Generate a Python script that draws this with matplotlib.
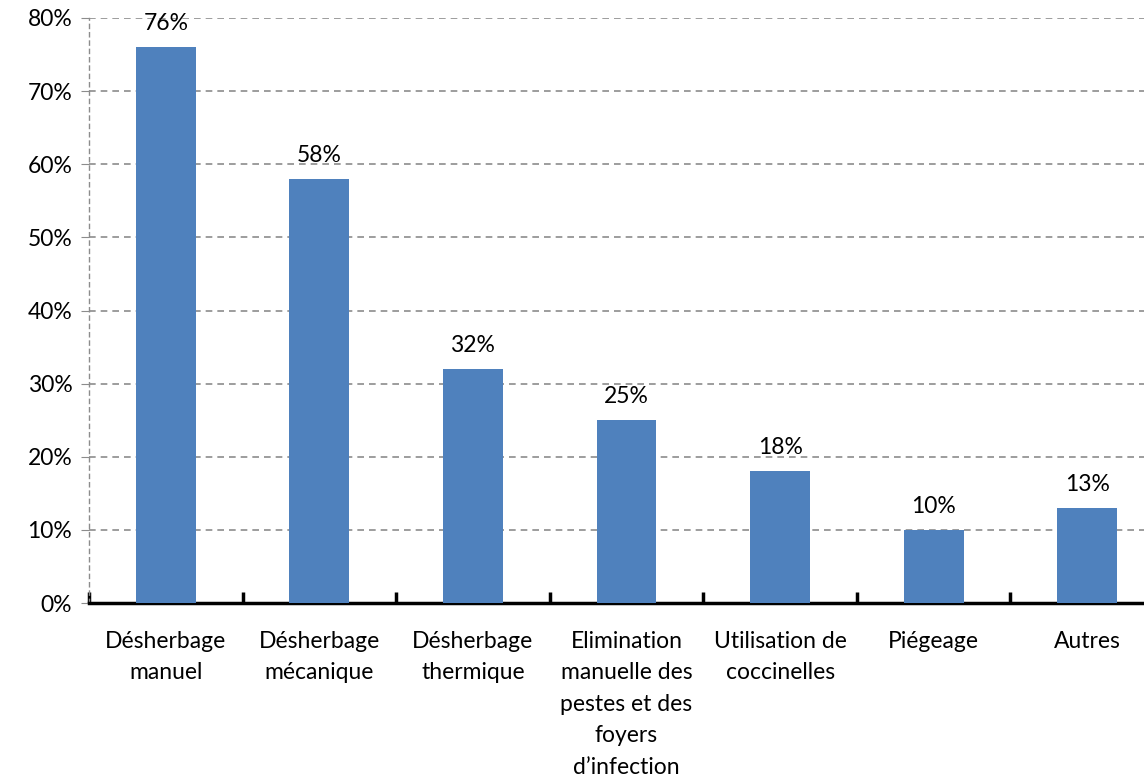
import matplotlib.pyplot as plt
from matplotlib.ticker import PercentFormatter
import numpy as np

categories = ["Désherbage\nmanuel", "Désherbage\nmécanique", "Désherbage\nthermique",
              "Elimination\nmanuelle des\npestes et des\nfoyers\nd\u2019infection",
              "Utilisation de\ncoccinelles", "Piégeage", "Autres"]
values = [76, 58, 32, 25, 18, 10, 13]

plt.rcParams['font.family'] = ['Lato', 'DejaVu Sans']
FS = 16.5

fig = plt.figure(figsize=(11.44, 7.81), dpi=100)
ax = fig.add_axes([89 / 1144, 178 / 781, 1075 / 1144, 585 / 781])

x = np.arange(len(values))
bars = ax.bar(x, values, width=0.39, color='#4F81BD', zorder=3)
for b, v in zip(bars, values):
    ax.text(b.get_x() + b.get_width() / 2, v + 1.8, f"{v}%", ha='center', va='bottom',
            fontsize=FS, color='black', zorder=4)

ax.set_xlim(-0.5, len(values) - 0.5)
ax.set_ylim(0, 80)
ax.set_yticks(range(0, 81, 10))
ax.yaxis.set_major_formatter(PercentFormatter(decimals=0))
ax.grid(axis='y', color='#8c8c8c', linestyle=(0, (4, 3)), linewidth=1.2, zorder=0)

for s in ['top', 'right']:
    ax.spines[s].set_visible(False)
ax.spines['left'].set_color('#8c8c8c')
ax.spines['left'].set_linestyle((0, (3, 3)))
ax.spines['left'].set_linewidth(1.0)
ax.spines['bottom'].set_linewidth(2.5)
ax.spines['bottom'].set_color('black')

ax.tick_params(axis='y', length=6, color='#8c8c8c', labelsize=FS, pad=6)
ax.set_xticks(np.arange(-0.5, len(values) - 0.4, 1.0), minor=False)
ax.set_xticklabels([])
ax.set_xticks(x, minor=True)
ax.set_xticklabels(categories, minor=True, fontsize=FS, linespacing=1.62, va='top')
ax.tick_params(axis='x', which='major', direction='in', length=8, width=2.5, color='black')
ax.tick_params(axis='x', which='minor', length=0, pad=20)

fig.savefig('out.png', dpi=100)
